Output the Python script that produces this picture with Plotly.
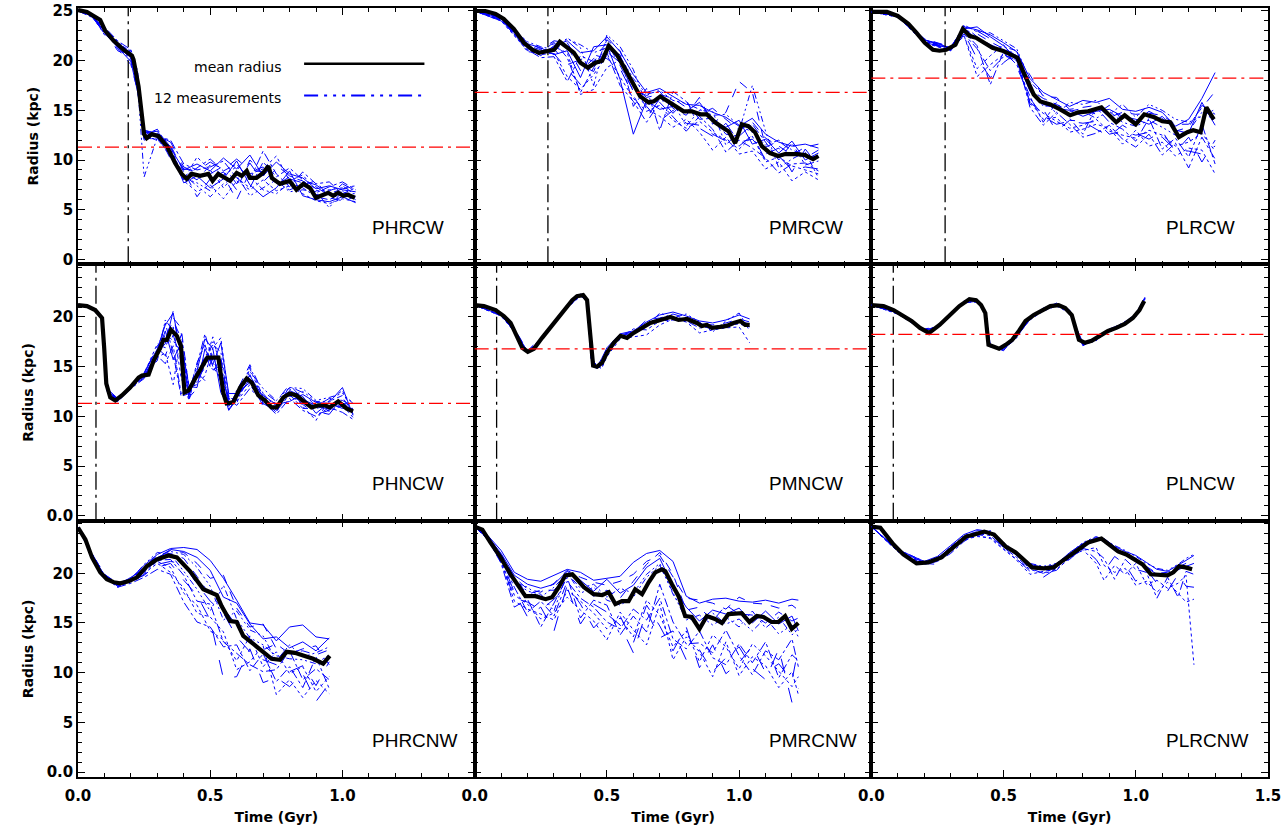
import plotly.graph_objects as go
from plotly.subplots import make_subplots

# ---------------- data ----------------
panel_names = ["PHRCW", "PMRCW", "PLRCW", "PHNCW", "PMNCW", "PLNCW", "PHRCNW", "PMRCNW", "PLRCNW"]
event_time = [0.19, 0.277, 0.279, 0.068, 0.083, 0.083, None, None, None]
threshold_radius = [11.3, 16.8, 18.25, 11.3, 16.8, 18.25, None, None, None]

# mean radius curves
phrcw_t = [0.0, 0.034, 0.084, 0.103, 0.135, 0.172, 0.204, 0.21, 0.229, 0.242, 0.25, 0.26, 0.279, 0.304, 0.336, 0.367, 0.392, 0.411, 0.43, 0.462, 0.493, 0.509, 0.53, 0.575, 0.6, 0.619, 0.638, 0.65, 0.675, 0.7, 0.72, 0.733, 0.764, 0.8, 0.826, 0.852, 0.877, 0.9, 0.92, 0.946, 0.965, 0.984, 1.003, 1.02, 1.047]
phrcw_r = [25.1, 24.9, 24.1, 23.0, 22.0, 21.1, 20.5, 20.1, 17.4, 14.8, 12.6, 12.2, 12.6, 12.4, 11.4, 9.7, 8.6, 8.1, 8.6, 8.4, 8.6, 7.9, 8.6, 7.9, 8.7, 8.4, 8.9, 8.2, 8.2, 8.7, 9.4, 8.2, 7.6, 7.9, 7.0, 7.6, 7.2, 6.2, 6.4, 6.7, 6.4, 6.7, 6.4, 6.5, 6.2]

pmrcw_t = [0.0, 0.04, 0.079, 0.11, 0.148, 0.186, 0.218, 0.243, 0.28, 0.30, 0.322, 0.35, 0.375, 0.40, 0.428, 0.457, 0.482, 0.507, 0.538, 0.57, 0.595, 0.626, 0.658, 0.677, 0.702, 0.733, 0.765, 0.79, 0.821, 0.853, 0.878, 0.909, 0.947, 0.96, 0.985, 1.01, 1.035, 1.06, 1.086, 1.117, 1.148, 1.174, 1.218, 1.249, 1.28, 1.30]
pmrcw_r = [25.0, 25.0, 24.7, 24.2, 23.2, 21.8, 21.1, 20.8, 21.0, 21.1, 21.9, 21.3, 20.8, 19.8, 19.3, 19.8, 20.0, 21.5, 20.6, 19.1, 17.8, 16.4, 15.8, 15.9, 16.4, 15.9, 15.3, 14.9, 14.9, 14.6, 14.6, 13.8, 13.1, 12.9, 11.7, 13.6, 13.4, 12.8, 11.4, 10.7, 10.4, 10.6, 10.6, 10.5, 10.1, 10.4]

plrcw_t = [0.0, 0.059, 0.1, 0.14, 0.171, 0.202, 0.233, 0.258, 0.283, 0.318, 0.346, 0.371, 0.396, 0.427, 0.458, 0.496, 0.527, 0.552, 0.571, 0.593, 0.614, 0.639, 0.677, 0.714, 0.752, 0.783, 0.82, 0.87, 0.895, 0.926, 0.958, 1.0, 1.032, 1.07, 1.1, 1.13, 1.163, 1.195, 1.217, 1.245, 1.267, 1.295]
plrcw_r = [24.9, 24.9, 24.5, 23.7, 22.8, 21.8, 21.1, 21.0, 21.1, 21.6, 23.2, 22.5, 22.3, 21.8, 21.3, 21.0, 20.6, 20.3, 19.1, 17.8, 16.6, 15.9, 15.6, 15.1, 14.5, 14.8, 14.9, 15.3, 14.6, 13.8, 14.5, 13.6, 14.6, 14.3, 13.9, 13.8, 12.3, 12.8, 13.0, 12.8, 15.3, 14.1]

phncw_t = [0.0, 0.034, 0.065, 0.082, 0.091, 0.099, 0.107, 0.122, 0.141, 0.166, 0.197, 0.229, 0.242, 0.267, 0.286, 0.311, 0.323, 0.336, 0.352, 0.374, 0.389, 0.403, 0.418, 0.443, 0.468, 0.489, 0.512, 0.531, 0.55, 0.562, 0.587, 0.613, 0.638, 0.657, 0.682, 0.707, 0.732, 0.751, 0.776, 0.801, 0.826, 0.858, 0.883, 0.908, 0.933, 0.952, 0.984, 1.015, 1.04]
phncw_r = [21.2, 21.1, 20.7, 20.2, 19.9, 16.9, 13.3, 11.9, 11.6, 12.1, 12.9, 13.9, 14.1, 14.2, 15.6, 16.9, 17.7, 17.7, 18.7, 18.1, 17.1, 12.4, 12.6, 13.8, 14.9, 15.9, 15.9, 15.9, 12.3, 11.3, 11.4, 12.9, 13.8, 13.4, 12.1, 11.6, 10.9, 10.9, 11.9, 12.3, 12.1, 11.4, 10.9, 11.1, 11.1, 10.9, 11.5, 10.8, 10.5]

pmncw_t = [0.0, 0.035, 0.079, 0.11, 0.136, 0.161, 0.18, 0.201, 0.224, 0.255, 0.30, 0.337, 0.369, 0.387, 0.41, 0.425, 0.438, 0.448, 0.463, 0.482, 0.50, 0.526, 0.551, 0.576, 0.601, 0.633, 0.664, 0.702, 0.74, 0.771, 0.803, 0.84, 0.859, 0.878, 0.897, 0.928, 0.953, 0.979, 1.004, 1.023, 1.04]
pmncw_r = [21.2, 21.1, 20.7, 20.1, 19.4, 18.1, 16.9, 16.5, 16.8, 17.9, 19.4, 20.6, 21.7, 22.1, 22.2, 21.7, 17.2, 15.1, 15.0, 15.4, 16.4, 17.4, 18.1, 17.9, 18.4, 18.9, 19.4, 19.7, 20.0, 19.7, 19.8, 19.4, 19.1, 19.2, 18.9, 19.0, 19.1, 19.4, 19.6, 19.2, 19.2]

plncw_t = [0.0, 0.046, 0.084, 0.121, 0.152, 0.184, 0.218, 0.258, 0.296, 0.333, 0.371, 0.396, 0.415, 0.431, 0.443, 0.464, 0.483, 0.508, 0.533, 0.558, 0.583, 0.614, 0.645, 0.677, 0.708, 0.733, 0.758, 0.773, 0.785, 0.808, 0.833, 0.864, 0.895, 0.926, 0.958, 0.989, 1.014, 1.032]
plncw_r = [21.2, 21.1, 20.7, 20.1, 19.6, 18.9, 18.4, 19.2, 20.1, 21.1, 21.8, 21.7, 21.2, 20.4, 17.2, 17.0, 16.8, 17.2, 17.7, 18.6, 19.6, 20.2, 20.7, 21.1, 21.2, 20.9, 20.2, 18.9, 17.7, 17.4, 17.6, 18.1, 18.6, 18.9, 19.3, 19.9, 20.7, 21.6]

phrcnw_t = [0.0, 0.028, 0.053, 0.084, 0.109, 0.135, 0.16, 0.191, 0.223, 0.26, 0.298, 0.342, 0.374, 0.424, 0.474, 0.499, 0.525, 0.543, 0.575, 0.60, 0.625, 0.663, 0.701, 0.732, 0.764, 0.789, 0.82, 0.858, 0.889, 0.927, 0.952]
phrcnw_r = [24.6, 23.4, 21.6, 20.1, 19.4, 19.1, 19.0, 19.2, 19.6, 20.7, 21.4, 21.8, 21.6, 20.2, 18.4, 18.1, 17.8, 16.7, 15.2, 15.1, 13.7, 12.9, 12.0, 11.4, 11.3, 12.1, 12.0, 11.7, 11.4, 10.9, 11.7]

pmrcnw_t = [0.0, 0.029, 0.06, 0.098, 0.136, 0.167, 0.192, 0.23, 0.268, 0.293, 0.318, 0.343, 0.369, 0.387, 0.413, 0.45, 0.482, 0.507, 0.532, 0.557, 0.582, 0.607, 0.633, 0.658, 0.683, 0.708, 0.721, 0.746, 0.771, 0.796, 0.821, 0.85, 0.878, 0.909, 0.935, 0.96, 1.01, 1.039, 1.067, 1.092, 1.123, 1.148, 1.174, 1.199, 1.224]
pmrcnw_r = [24.7, 24.4, 23.1, 21.6, 19.9, 18.6, 17.7, 17.7, 17.4, 17.6, 18.6, 19.8, 19.9, 19.4, 18.6, 17.9, 17.8, 18.1, 16.9, 17.2, 17.2, 18.4, 17.9, 19.1, 20.1, 20.4, 20.2, 18.9, 17.7, 15.7, 15.6, 14.4, 15.7, 15.4, 15.0, 15.9, 16.0, 15.1, 15.7, 15.6, 15.1, 15.1, 15.7, 14.4, 15.0]

plrcnw_t = [0.0, 0.034, 0.084, 0.121, 0.171, 0.215, 0.265, 0.308, 0.358, 0.39, 0.427, 0.464, 0.508, 0.546, 0.577, 0.608, 0.652, 0.689, 0.72, 0.77, 0.82, 0.87, 0.901, 0.933, 0.964, 0.995, 1.026, 1.057, 1.089, 1.12, 1.142, 1.164, 1.188, 1.213]
plrcnw_r = [24.7, 24.6, 22.9, 21.9, 21.0, 21.1, 21.6, 22.6, 23.7, 23.9, 24.2, 23.9, 22.7, 22.1, 21.4, 20.6, 20.5, 20.6, 21.2, 22.2, 23.1, 23.5, 22.9, 22.2, 21.9, 21.4, 20.9, 19.9, 19.9, 19.8, 20.1, 20.7, 20.6, 20.4]

# individual measurements (blue)
phrcw_tb = [0, 0.05, 0.1, 0.15, 0.2, 0.225, 0.25, 0.3, 0.35, 0.4, 0.45, 0.5, 0.55, 0.6, 0.65, 0.7, 0.75, 0.8, 0.85, 0.9, 0.95, 1.0, 1.05]
phrcw_meas = [
    [25.1, 24.5, 23.0, 21.4, 20.3, 17.5, 12.8, 12.6, 11.2, 9.0, 9.6, 8.9, 10.2, 9.1, 10.5, 8.4, 9.8, 8.6, 8.2, 7.1, 7.4, 7.0, 6.8],
    [25.0, 24.7, 22.6, 21.8, 20.9, 18.8, 12.2, 12.1, 10.5, 7.9, 6.8, 7.5, 6.1, 7.9, 7.0, 8.0, 6.9, 7.4, 6.6, 5.9, 5.6, 6.1, 5.8],
    [25.1, 24.6, 23.1, 21.2, 19.6, 17.0, 12.9, 12.8, 11.5, 8.8, 8.0, 9.5, 8.4, 6.0, 8.8, 9.3, 7.5, 8.3, 7.9, 6.5, 6.9, 7.4, 6.5],
    [25.0, 24.4, 23.4, 22.0, 21.1, 19.0, 12.5, 13.1, 11.0, 8.3, 9.2, 10.1, 8.9, 9.6, 8.0, 10.9, 8.6, 7.3, 8.8, 7.6, 7.8, 6.6, 7.2],
    [25.1, 24.6, 22.9, 21.5, 20.0, 17.9, 8.3, 12.3, 10.3, 8.5, 7.4, 6.3, 7.6, 8.4, 6.4, 7.2, 8.0, 6.8, 7.0, 6.8, 5.2, 6.9, 6.0],
    [25.0, 24.8, 23.2, 21.7, 20.6, 18.3, 12.0, 12.5, 11.8, 9.3, 8.7, 8.6, 9.4, 7.6, 9.7, 7.8, 9.1, 8.1, 7.7, 7.3, 6.4, 7.6, 6.9],
    [25.1, 24.5, 22.8, 21.3, 19.9, 16.9, 12.7, 12.9, 10.9, 7.7, 8.4, 7.2, 8.1, 9.9, 7.5, 6.3, 7.2, 8.9, 6.4, 6.0, 5.8, 6.3, 5.7],
    [25.0, 24.6, 23.3, 21.9, 20.8, 18.5, 12.4, 12.0, 11.4, 8.0, 10.3, 9.0, 7.2, 8.7, 8.6, 9.1, 10.4, 7.9, 8.5, 6.9, 7.0, 7.2, 7.4],
    [25.1, 24.7, 23.0, 21.0, 20.4, 17.3, 13.0, 12.7, 10.1, 8.9, 6.3, 8.1, 8.8, 7.0, 10.0, 8.6, 7.7, 7.0, 7.5, 7.9, 6.2, 5.9, 6.3],
    [25.0, 24.5, 23.1, 21.6, 21.0, 18.1, 12.6, 12.4, 12.0, 9.6, 9.0, 9.3, 9.9, 8.2, 7.2, 9.8, 8.3, 9.2, 8.0, 6.7, 7.3, 7.8, 7.0],
    [25.1, 24.6, 22.7, 21.4, 20.2, 17.7, 12.1, 12.2, 10.7, 8.2, 7.7, 6.9, 8.5, 9.3, 8.3, 7.0, 6.6, 7.7, 7.2, 6.3, 6.0, 6.7, 6.6],
    [25.0, 24.7, 23.2, 21.8, 20.7, 18.6, 12.3, 13.0, 11.3, 9.1, 8.9, 9.8, 9.0, 10.1, 9.0, 8.8, 9.5, 8.4, 7.9, 7.5, 6.6, 7.1, 7.3],
]

pmrcw_tb = [0, 0.1, 0.2, 0.25, 0.3, 0.35, 0.4, 0.45, 0.5, 0.55, 0.6, 0.65, 0.7, 0.75, 0.8, 0.85, 0.9, 0.95, 1.0, 1.05, 1.1, 1.15, 1.2, 1.25, 1.3]
pmrcw_meas = [
    [25.0, 24.3, 21.3, 20.5, 21.5, 22.0, 20.8, 21.0, 22.4, 20.9, 18.6, 16.8, 17.2, 16.4, 15.6, 15.5, 14.8, 14.3, 13.4, 14.2, 12.6, 11.8, 11.4, 11.6, 11.2],
    [25.0, 24.0, 21.0, 20.6, 20.8, 18.4, 17.1, 18.6, 20.5, 18.4, 16.2, 14.9, 15.5, 14.0, 13.2, 13.9, 12.8, 12.0, 11.1, 12.4, 9.8, 10.3, 9.4, 9.0, 8.6],
    [25.0, 24.4, 21.8, 21.2, 21.7, 21.5, 19.0, 20.2, 21.8, 19.5, 17.0, 16.5, 16.9, 15.2, 14.5, 16.3, 13.6, 14.8, 17.9, 16.8, 11.3, 11.9, 10.9, 10.2, 11.0],
    [25.0, 24.1, 21.6, 20.7, 21.9, 20.3, 16.8, 19.3, 21.1, 20.6, 15.4, 17.2, 13.0, 16.9, 15.9, 14.1, 14.2, 12.6, 12.4, 13.6, 11.8, 10.0, 11.7, 9.5, 9.9],
    [25.0, 24.2, 21.2, 21.0, 20.9, 22.3, 21.3, 17.5, 22.6, 21.4, 19.1, 15.5, 16.0, 15.8, 13.4, 15.0, 14.9, 11.5, 12.9, 17.5, 12.9, 9.2, 10.1, 10.8, 8.2],
    [25.0, 24.3, 21.4, 20.4, 21.2, 19.6, 20.1, 20.6, 20.2, 19.2, 16.5, 14.2, 16.2, 14.7, 16.1, 13.2, 12.4, 13.7, 11.8, 12.1, 10.6, 11.2, 8.8, 11.1, 9.4],
    [25.0, 24.0, 21.7, 21.3, 20.6, 21.0, 18.3, 21.4, 21.6, 18.1, 12.6, 16.0, 15.1, 15.4, 14.9, 15.8, 14.0, 13.3, 14.0, 11.6, 12.1, 10.7, 11.9, 10.0, 10.7],
    [25.0, 24.4, 20.9, 20.8, 21.4, 20.8, 16.6, 17.1, 19.3, 20.1, 17.9, 15.1, 14.4, 13.3, 14.1, 12.8, 11.0, 12.3, 10.6, 10.9, 9.1, 9.8, 7.9, 8.8, 8.0],
    [25.0, 24.2, 21.5, 21.1, 22.0, 21.8, 19.6, 18.9, 22.1, 21.0, 17.4, 16.3, 16.6, 16.2, 15.3, 14.7, 15.2, 14.1, 13.0, 13.8, 12.2, 11.4, 10.5, 11.3, 11.6],
    [25.0, 24.1, 21.1, 20.3, 20.4, 17.9, 20.5, 19.9, 20.8, 17.5, 15.9, 13.8, 15.8, 14.3, 12.9, 14.4, 13.1, 10.8, 12.0, 11.2, 10.2, 8.7, 9.6, 9.7, 8.9],
    [25.0, 24.3, 21.9, 21.4, 21.1, 22.2, 21.6, 20.8, 21.3, 20.4, 18.2, 16.6, 17.0, 16.0, 15.7, 15.1, 14.5, 14.6, 13.5, 12.8, 11.5, 12.0, 11.0, 10.5, 10.3],
    [25.0, 24.2, 21.3, 20.9, 20.7, 19.1, 17.6, 20.0, 20.9, 19.8, 16.9, 15.4, 13.9, 15.0, 13.7, 13.5, 12.6, 11.9, 11.4, 12.5, 10.0, 10.4, 9.0, 9.3, 9.1],
]

plrcw_tb = [0, 0.1, 0.2, 0.3, 0.35, 0.4, 0.45, 0.5, 0.55, 0.6, 0.65, 0.7, 0.75, 0.8, 0.85, 0.9, 0.95, 1.0, 1.05, 1.1, 1.15, 1.2, 1.25, 1.3]
plrcw_meas = [
    [24.9, 24.5, 22.1, 21.3, 23.4, 23.1, 22.6, 21.8, 20.9, 18.2, 16.8, 16.1, 15.4, 16.0, 15.8, 16.2, 15.1, 14.9, 15.3, 14.8, 13.4, 14.1, 16.2, 18.8],
    [24.9, 24.4, 21.8, 21.0, 22.6, 18.4, 19.6, 20.6, 20.0, 15.8, 14.7, 13.9, 13.2, 13.5, 14.1, 12.9, 12.5, 12.2, 13.0, 12.5, 11.4, 11.8, 12.7, 10.9],
    [24.9, 24.6, 22.2, 21.4, 23.1, 22.7, 21.9, 21.2, 20.5, 17.1, 16.2, 15.6, 14.9, 15.2, 14.6, 15.5, 14.0, 13.9, 14.9, 14.2, 12.9, 13.3, 15.5, 14.6],
    [24.9, 24.5, 21.9, 21.1, 22.9, 21.5, 17.6, 20.9, 19.6, 16.4, 13.8, 15.8, 14.2, 12.6, 15.3, 13.8, 13.1, 11.9, 14.2, 11.1, 12.2, 10.3, 13.6, 9.6],
    [24.9, 24.4, 22.0, 21.2, 23.6, 22.9, 22.8, 22.0, 21.2, 17.9, 16.5, 14.6, 15.8, 15.6, 16.0, 14.6, 15.6, 14.3, 15.6, 15.0, 14.1, 13.8, 14.4, 15.1],
    [24.9, 24.5, 22.1, 21.2, 22.8, 20.2, 18.3, 19.8, 20.8, 15.6, 15.1, 12.9, 14.0, 13.9, 13.1, 12.4, 13.5, 12.7, 12.1, 12.9, 10.8, 12.3, 9.8, 12.0],
    [24.9, 24.6, 21.8, 21.3, 23.2, 23.4, 22.4, 21.5, 20.2, 16.9, 15.6, 15.2, 15.0, 14.4, 14.9, 15.1, 14.4, 14.1, 13.6, 14.4, 13.0, 12.7, 15.8, 13.5],
    [24.9, 24.4, 22.0, 21.1, 22.5, 19.2, 20.5, 21.6, 19.9, 15.9, 14.1, 14.3, 12.8, 13.1, 13.6, 13.2, 11.6, 13.0, 11.4, 11.8, 10.4, 11.2, 11.0, 8.6],
    [24.9, 24.5, 22.2, 21.3, 23.5, 22.4, 21.6, 21.1, 20.7, 18.6, 16.4, 16.3, 15.1, 15.3, 15.5, 14.3, 14.8, 14.6, 14.7, 14.5, 13.6, 13.6, 15.2, 16.9],
    [24.9, 24.4, 21.9, 21.0, 22.7, 21.2, 19.0, 20.4, 20.4, 15.3, 13.5, 14.8, 13.6, 12.3, 12.7, 13.5, 12.1, 11.3, 12.6, 10.5, 11.7, 9.2, 12.3, 10.1],
    [24.9, 24.5, 22.0, 21.2, 23.3, 22.1, 21.3, 21.4, 21.0, 17.4, 15.4, 15.5, 14.5, 14.9, 14.2, 14.9, 13.8, 13.4, 14.0, 13.3, 12.5, 12.9, 14.8, 14.0],
    [24.9, 24.6, 22.1, 21.4, 22.4, 23.0, 22.2, 20.8, 19.4, 16.2, 14.4, 13.6, 13.9, 13.7, 13.9, 12.6, 12.9, 12.5, 12.8, 12.3, 11.0, 10.9, 10.6, 11.4],
]

phncw_tb = [0, 0.05, 0.09, 0.1, 0.11, 0.15, 0.2, 0.25, 0.3, 0.33, 0.36, 0.39, 0.42, 0.45, 0.48, 0.51, 0.54, 0.57, 0.6, 0.65, 0.7, 0.75, 0.8, 0.85, 0.9, 0.95, 1.0, 1.04]
phncw_meas = [
    [21.2, 21.0, 19.9, 17.2, 12.6, 11.7, 13.0, 14.3, 16.8, 19.2, 20.4, 16.1, 12.1, 14.6, 17.8, 16.8, 12.4, 11.0, 12.2, 14.1, 11.9, 10.6, 12.6, 12.0, 10.3, 11.4, 12.9, 10.1],
    [21.2, 20.9, 20.0, 17.8, 12.8, 11.5, 12.8, 14.0, 15.9, 16.4, 13.2, 18.4, 12.9, 13.2, 14.1, 16.9, 17.9, 12.0, 11.5, 13.2, 11.2, 11.4, 12.1, 11.3, 11.2, 10.5, 11.1, 9.9],
    [21.2, 21.0, 19.8, 17.0, 12.5, 11.8, 13.1, 14.2, 17.1, 18.0, 19.6, 17.9, 11.8, 14.0, 16.2, 14.4, 16.0, 10.9, 12.5, 15.2, 12.3, 10.8, 13.0, 12.4, 11.0, 11.8, 11.6, 11.0],
    [21.2, 20.9, 19.9, 17.5, 12.7, 11.6, 12.9, 13.9, 16.1, 15.3, 17.1, 12.3, 12.6, 15.1, 18.3, 15.6, 14.2, 11.8, 11.1, 12.8, 11.5, 10.2, 11.8, 10.6, 10.0, 10.9, 10.4, 9.7],
    [21.2, 21.0, 19.9, 17.4, 12.6, 11.7, 13.0, 14.4, 15.6, 19.7, 18.6, 16.8, 12.4, 13.5, 15.1, 17.5, 15.3, 11.2, 12.0, 14.5, 12.8, 11.6, 12.9, 12.8, 11.6, 11.9, 12.3, 11.3],
    [21.2, 20.9, 19.8, 17.1, 12.5, 11.5, 12.8, 14.1, 16.5, 17.3, 20.6, 15.2, 12.2, 14.4, 13.6, 16.1, 13.4, 10.6, 11.7, 13.8, 11.0, 10.9, 12.4, 11.5, 10.5, 10.2, 11.9, 10.4],
    [21.2, 21.0, 20.0, 17.6, 12.8, 11.8, 13.1, 14.0, 16.3, 18.6, 15.7, 17.4, 13.0, 12.9, 16.8, 15.2, 17.4, 12.3, 12.3, 13.4, 12.1, 11.2, 11.5, 12.2, 11.4, 11.3, 10.8, 10.8],
    [21.2, 20.9, 19.9, 17.3, 12.6, 11.6, 12.9, 14.3, 17.3, 16.9, 19.0, 13.9, 11.6, 14.8, 15.4, 18.0, 14.7, 11.5, 11.3, 14.8, 11.7, 10.4, 12.8, 11.0, 9.6, 11.6, 12.6, 10.2],
    [21.2, 21.0, 19.9, 17.7, 12.7, 11.7, 13.0, 14.2, 15.8, 17.9, 19.9, 18.9, 12.7, 13.7, 14.9, 16.4, 15.7, 11.7, 12.6, 13.1, 12.5, 11.5, 13.2, 11.7, 11.1, 10.7, 11.3, 11.2],
    [21.2, 20.9, 19.8, 17.2, 12.5, 11.5, 12.8, 13.8, 16.6, 19.4, 16.3, 12.0, 12.3, 15.4, 17.2, 15.0, 13.8, 10.7, 11.8, 14.2, 11.3, 10.5, 12.2, 10.8, 10.8, 11.1, 11.0, 10.6],
    [21.2, 21.0, 19.9, 17.5, 12.6, 11.6, 13.1, 14.1, 16.0, 18.3, 17.6, 16.5, 12.9, 14.1, 16.0, 17.2, 16.5, 11.9, 11.6, 15.0, 12.0, 11.1, 12.0, 12.5, 11.5, 11.5, 12.1, 11.4],
    [21.2, 20.9, 20.0, 17.8, 12.7, 11.8, 12.9, 14.4, 16.9, 16.1, 18.2, 15.6, 11.9, 12.8, 15.7, 14.7, 15.1, 11.3, 12.1, 13.5, 11.4, 10.7, 12.5, 11.2, 10.2, 10.6, 11.5, 10.3],
]

pmncw_tb = [0, 0.1, 0.16, 0.2, 0.25, 0.3, 0.35, 0.4, 0.425, 0.44, 0.46, 0.48, 0.5, 0.55, 0.6, 0.65, 0.7, 0.75, 0.8, 0.85, 0.9, 0.95, 1.0, 1.04]
pmncw_meas = [
    [21.2, 20.2, 18.3, 16.4, 17.8, 19.4, 21.0, 22.2, 21.6, 16.1, 14.9, 15.8, 16.9, 18.3, 18.6, 19.5, 20.2, 20.5, 20.1, 19.6, 19.4, 19.7, 20.2, 19.8],
    [21.2, 20.1, 18.2, 16.5, 17.7, 19.3, 20.9, 22.1, 21.8, 15.9, 15.1, 14.8, 16.0, 17.8, 18.0, 18.2, 19.2, 19.8, 19.5, 18.4, 18.7, 18.9, 19.0, 17.4],
    [21.2, 20.2, 18.4, 16.6, 17.9, 19.5, 21.1, 22.3, 21.7, 16.2, 15.0, 15.5, 16.6, 18.2, 18.5, 19.7, 19.9, 20.3, 19.9, 19.3, 19.2, 19.4, 19.8, 19.5],
    [21.2, 20.1, 18.3, 16.5, 17.8, 19.4, 21.0, 22.2, 21.7, 15.8, 15.2, 14.9, 16.3, 17.9, 18.8, 18.7, 19.6, 19.7, 19.6, 18.9, 19.0, 19.2, 19.3, 19.0],
    [21.2, 20.2, 18.2, 16.4, 17.7, 19.3, 20.9, 22.2, 21.6, 16.0, 14.8, 15.6, 16.8, 18.0, 18.3, 19.0, 20.4, 19.9, 20.3, 19.5, 18.5, 19.6, 20.4, 18.6],
    [21.2, 20.2, 18.3, 16.5, 17.8, 19.4, 21.0, 22.1, 21.7, 16.1, 15.0, 15.2, 16.5, 18.1, 18.4, 19.3, 19.8, 20.1, 19.7, 19.1, 18.8, 19.0, 19.6, 19.3],
]

plncw_tb = [0, 0.1, 0.2, 0.25, 0.3, 0.35, 0.4, 0.43, 0.45, 0.5, 0.55, 0.6, 0.65, 0.7, 0.75, 0.78, 0.8, 0.85, 0.9, 0.95, 1.0, 1.035]
plncw_meas = [
    [21.2, 20.4, 18.7, 19.0, 20.2, 21.6, 21.7, 20.7, 17.0, 16.7, 18.0, 19.8, 20.8, 21.3, 20.6, 18.3, 17.2, 17.7, 18.7, 19.3, 20.3, 22.0],
    [21.2, 20.3, 18.6, 18.9, 20.1, 21.5, 21.5, 20.5, 17.2, 16.8, 18.1, 19.7, 20.6, 21.1, 20.4, 18.6, 17.3, 17.9, 18.5, 19.1, 20.0, 21.9],
    [21.2, 20.4, 18.7, 19.1, 20.3, 21.6, 21.7, 20.6, 17.1, 16.6, 18.4, 20.0, 20.8, 21.4, 20.7, 18.4, 17.1, 17.8, 18.8, 19.3, 20.2, 22.1],
    [21.2, 20.4, 18.8, 19.0, 20.2, 21.4, 21.6, 20.6, 17.0, 16.9, 18.2, 19.8, 20.7, 21.2, 20.5, 18.7, 17.4, 17.8, 18.6, 19.2, 20.1, 21.8],
    [21.2, 20.3, 18.7, 18.9, 20.1, 21.5, 21.6, 20.7, 17.1, 16.7, 17.9, 19.9, 20.9, 21.3, 20.6, 18.5, 17.2, 17.6, 18.7, 19.4, 20.2, 21.9],
    [21.2, 20.4, 18.6, 19.0, 20.2, 21.6, 21.5, 20.5, 17.2, 16.8, 18.1, 19.8, 20.6, 21.2, 20.4, 18.6, 17.3, 17.9, 18.6, 19.2, 20.1, 22.0],
]

phrcnw_tb = [0, 0.05, 0.1, 0.15, 0.2, 0.25, 0.3, 0.35, 0.4, 0.45, 0.5, 0.55, 0.6, 0.65, 0.7, 0.75, 0.8, 0.85, 0.9, 0.95]
phrcnw_meas = [
    [24.6, 22.0, 19.7, 18.8, 19.5, 20.8, 21.9, 22.5, 22.6, 22.4, 21.3, 19.5, 17.3, 15.0, 14.8, 13.2, 14.6, 14.8, 13.6, 13.4],
    [24.6, 21.9, 19.6, 18.7, 19.3, 20.1, 21.2, 20.6, 18.0, 16.8, 14.2, 13.3, 11.2, 13.7, 10.6, 12.1, 9.9, 10.6, 8.1, 9.6],
    [24.6, 22.1, 19.9, 18.9, 19.2, 20.6, 21.7, 22.3, 22.1, 21.0, 19.5, 19.8, 16.5, 14.6, 14.9, 12.4, 12.0, 12.2, 11.8, 12.3],
    [24.6, 22.0, 19.8, 18.6, 19.0, 19.6, 20.4, 19.9, 17.1, 15.1, 14.6, 12.6, 12.8, 10.2, 11.9, 9.1, 10.6, 8.5, 11.6, 8.4],
    [24.6, 21.9, 19.7, 18.9, 19.4, 20.9, 22.1, 21.9, 20.2, 18.4, 16.2, 18.8, 15.4, 13.5, 12.8, 11.7, 11.4, 11.3, 10.9, 11.8],
    [24.6, 22.1, 19.9, 18.7, 19.1, 19.9, 20.6, 21.0, 19.3, 17.8, 15.3, 9.4, 9.6, 12.4, 9.0, 9.5, 8.6, 9.9, 7.1, 8.9],
    [24.6, 22.0, 19.8, 18.8, 19.6, 20.4, 21.5, 22.4, 22.2, 21.6, 20.3, 17.6, 17.0, 14.9, 13.4, 13.6, 12.5, 13.1, 12.2, 13.5],
    [24.6, 22.0, 19.6, 18.6, 19.2, 20.0, 21.0, 20.1, 18.5, 16.0, 15.6, 14.1, 10.3, 11.1, 12.7, 7.8, 9.3, 7.5, 9.2, 7.9],
    [24.6, 21.9, 19.9, 19.0, 19.5, 20.7, 21.8, 22.0, 21.5, 19.7, 17.8, 16.5, 14.7, 13.0, 12.3, 12.9, 11.9, 12.4, 12.7, 10.8],
    [24.6, 22.1, 19.7, 18.8, 19.3, 20.2, 21.3, 21.4, 19.8, 17.2, 16.9, 13.1, 11.9, 10.8, 10.1, 10.3, 12.2, 9.3, 10.4, 9.3],
    [24.6, 22.0, 19.8, 18.9, 19.4, 20.5, 21.6, 22.2, 21.9, 20.6, 18.7, 15.3, 16.2, 14.3, 13.7, 11.2, 12.8, 11.6, 12.0, 12.6],
    [24.6, 22.0, 19.7, 18.7, 19.2, 19.8, 20.9, 21.2, 20.9, 18.9, 17.2, 16.0, 13.6, 12.1, 11.3, 10.8, 10.1, 10.7, 8.7, 11.1],
]

pmrcnw_tb = [0, 0.05, 0.1, 0.15, 0.2, 0.25, 0.3, 0.35, 0.4, 0.45, 0.5, 0.55, 0.6, 0.65, 0.7, 0.75, 0.8, 0.85, 0.9, 0.95, 1.0, 1.05, 1.1, 1.15, 1.2, 1.224]
pmrcnw_meas = [
    [24.7, 23.8, 22.3, 20.1, 19.4, 19.2, 19.8, 20.4, 20.1, 19.3, 19.5, 19.7, 21.1, 22.0, 22.3, 21.2, 17.7, 17.0, 17.4, 17.5, 17.2, 17.1, 17.3, 17.0, 17.4, 17.3],
    [24.7, 23.5, 21.2, 17.2, 16.4, 15.9, 15.3, 18.3, 17.2, 16.0, 14.4, 15.5, 13.6, 17.3, 15.8, 12.6, 14.2, 11.1, 13.8, 12.6, 10.4, 12.9, 11.7, 10.2, 8.6, 9.6],
    [24.7, 23.7, 21.9, 19.6, 18.4, 18.1, 19.0, 20.3, 19.6, 19.1, 18.8, 19.2, 19.9, 21.2, 21.8, 19.6, 17.5, 17.3, 17.0, 16.4, 17.6, 17.0, 16.9, 16.5, 16.8, 16.3],
    [24.7, 23.4, 21.0, 16.6, 17.4, 14.6, 17.0, 19.6, 15.5, 17.3, 16.8, 13.8, 15.7, 14.1, 18.9, 15.1, 12.9, 13.0, 12.0, 14.3, 11.7, 9.8, 12.2, 11.3, 13.4, 10.6],
    [24.7, 23.6, 21.7, 19.3, 18.2, 17.9, 16.2, 20.1, 18.0, 18.6, 17.3, 16.8, 17.6, 19.6, 20.8, 18.1, 15.3, 15.8, 14.8, 15.6, 14.6, 16.2, 14.5, 15.6, 13.8, 14.4],
    [24.7, 23.5, 21.4, 18.1, 15.6, 16.6, 14.2, 18.8, 16.9, 14.5, 15.9, 14.8, 12.0, 16.2, 13.5, 14.2, 11.3, 12.3, 10.1, 11.5, 12.6, 10.4, 9.3, 12.4, 7.0, 8.4],
    [24.7, 23.7, 22.0, 19.8, 18.9, 18.5, 18.9, 20.2, 19.3, 18.2, 19.4, 18.0, 18.8, 20.6, 21.5, 18.7, 16.6, 15.2, 16.3, 15.9, 16.5, 15.0, 16.2, 14.9, 15.7, 14.2],
    [24.7, 23.4, 21.3, 17.8, 16.9, 15.4, 16.0, 17.6, 16.3, 15.2, 13.3, 16.1, 14.3, 12.8, 16.9, 11.3, 13.6, 12.1, 9.6, 13.1, 9.7, 11.6, 10.7, 8.5, 10.1, 7.8],
    [24.7, 23.6, 21.8, 19.5, 17.9, 18.3, 18.3, 19.8, 19.0, 17.7, 18.3, 17.5, 19.2, 20.9, 22.1, 19.9, 16.3, 16.6, 15.2, 16.8, 15.9, 15.8, 15.0, 16.1, 15.2, 15.5],
    [24.7, 23.5, 21.5, 18.6, 16.1, 17.2, 15.7, 19.2, 17.5, 16.6, 15.1, 14.4, 16.4, 15.3, 17.5, 13.4, 12.4, 14.2, 11.5, 10.8, 12.9, 11.0, 13.1, 9.5, 11.8, 11.2],
    [24.7, 23.7, 21.7, 19.1, 18.6, 17.6, 18.6, 20.0, 18.5, 18.9, 17.6, 18.5, 18.0, 19.9, 21.0, 17.9, 15.8, 14.5, 16.0, 14.9, 15.4, 14.2, 15.5, 13.9, 14.8, 13.6],
    [24.7, 23.5, 21.1, 17.5, 17.1, 16.3, 17.4, 18.6, 14.9, 16.9, 16.1, 15.7, 13.0, 16.8, 14.7, 12.2, 14.6, 10.5, 12.8, 9.9, 11.0, 12.7, 10.0, 10.9, 9.2, 12.5],
]

plrcnw_tb = [0, 0.1, 0.2, 0.25, 0.3, 0.35, 0.4, 0.45, 0.5, 0.55, 0.6, 0.65, 0.7, 0.75, 0.8, 0.85, 0.88, 0.92, 0.96, 1.0, 1.04, 1.08, 1.12, 1.16, 1.19, 1.22]
plrcnw_meas = [
    [24.7, 22.4, 21.2, 21.7, 22.8, 23.9, 24.4, 24.2, 23.0, 22.0, 20.9, 20.6, 20.9, 22.1, 23.0, 23.6, 23.5, 22.7, 22.2, 21.8, 21.1, 20.4, 20.2, 20.8, 21.3, 21.8],
    [24.7, 22.2, 21.0, 21.3, 22.3, 23.4, 23.7, 23.6, 22.5, 21.3, 19.9, 20.2, 20.4, 21.5, 22.4, 21.0, 19.3, 20.8, 19.9, 21.0, 18.9, 19.3, 18.5, 19.0, 19.8, 10.8],
    [24.7, 22.3, 21.1, 21.6, 22.6, 23.7, 24.3, 24.1, 22.9, 21.9, 20.8, 20.5, 20.8, 21.9, 22.9, 23.5, 23.2, 22.4, 21.9, 21.5, 20.7, 20.0, 20.1, 20.6, 21.0, 21.5],
    [24.7, 22.2, 20.9, 21.2, 22.0, 23.2, 24.0, 23.8, 22.6, 21.6, 20.5, 20.0, 20.3, 21.6, 22.5, 22.2, 21.5, 19.4, 21.4, 20.4, 20.1, 17.5, 19.6, 17.6, 20.2, 19.9],
    [24.7, 22.4, 21.2, 21.4, 22.7, 23.8, 24.2, 24.3, 23.1, 22.1, 21.0, 20.7, 21.0, 22.0, 23.1, 23.7, 23.4, 22.8, 22.3, 21.7, 21.0, 20.5, 20.3, 20.9, 21.5, 21.9],
    [24.7, 22.3, 21.0, 20.9, 22.4, 23.5, 23.9, 23.7, 22.7, 21.5, 20.2, 19.6, 20.5, 21.4, 22.6, 21.4, 20.2, 21.7, 20.9, 19.2, 20.4, 19.0, 18.2, 19.9, 18.7, 18.6],
    [24.7, 22.3, 21.1, 21.5, 22.6, 23.6, 24.1, 24.0, 22.8, 21.8, 20.7, 20.4, 20.7, 21.8, 22.8, 23.4, 23.3, 22.5, 22.0, 21.4, 20.6, 19.9, 19.9, 20.4, 20.7, 21.0],
    [24.7, 22.2, 21.0, 21.3, 22.2, 23.3, 23.8, 23.5, 22.4, 21.4, 20.4, 20.0, 20.6, 21.7, 22.3, 22.6, 20.8, 20.1, 20.5, 18.8, 19.2, 18.1, 19.1, 18.0, 17.1, 17.4],
]

mean_t = [phrcw_t, pmrcw_t, plrcw_t, phncw_t, pmncw_t, plncw_t, phrcnw_t, pmrcnw_t, plrcnw_t]
mean_r = [phrcw_r, pmrcw_r, plrcw_r, phncw_r, pmncw_r, plncw_r, phrcnw_r, pmrcnw_r, plrcnw_r]
meas_t = [phrcw_tb, pmrcw_tb, plrcw_tb, phncw_tb, pmncw_tb, plncw_tb, phrcnw_tb, pmrcnw_tb, plrcnw_tb]
meas_r = [phrcw_meas, pmrcw_meas, plrcw_meas, phncw_meas, pmncw_meas, plncw_meas, phrcnw_meas, pmrcnw_meas, plrcnw_meas]

# ---------------- styling ----------------
BLUE = "#0000ff"
blue_dashes = ["solid", "dot", "dash", "dashdot", "6px,3px,2px,3px,2px,3px,2px,3px", "longdash"]
tick_font = dict(family="DejaVu Sans", size=15, color="black", weight="bold")
title_font = dict(family="DejaVu Sans", size=14, color="black", weight="bold")

fig = make_subplots(rows=3, cols=3, horizontal_spacing=0, vertical_spacing=0)

for i, name in enumerate(panel_names):
    row, col = i // 3 + 1, i % 3 + 1
    axn = "" if i == 0 else str(i + 1)
    tb = meas_t[i]
    for k, vals in enumerate(meas_r[i]):
        n = min(len(tb), len(vals))
        fig.add_trace(go.Scatter(x=tb[:n], y=vals[:n], mode="lines",
                                 line=dict(color=BLUE, width=1, dash=blue_dashes[k % len(blue_dashes)]),
                                 hoverinfo="skip", showlegend=False), row=row, col=col)
    n = min(len(mean_t[i]), len(mean_r[i]))
    fig.add_trace(go.Scatter(x=mean_t[i][:n], y=mean_r[i][:n], mode="lines",
                             line=dict(color="black", width=4.2),
                             showlegend=False), row=row, col=col)
    if event_time[i] is not None:
        fig.add_shape(type="line", xref="x" + axn, yref="y" + axn + " domain",
                      x0=event_time[i], x1=event_time[i], y0=0, y1=1, layer="above",
                      line=dict(color="black", width=1.3, dash="18px,5px,3px,5px"))
    if threshold_radius[i] is not None:
        fig.add_shape(type="line", xref="x" + axn + " domain", yref="y" + axn,
                      x0=0, x1=1, y0=threshold_radius[i], y1=threshold_radius[i], layer="above",
                      line=dict(color="#ff0000", width=1.2, dash="14px,5px,3px,5px"))
    fig.add_annotation(x=1.105, y=3.2, xref="x" + axn, yref="y" + axn, text=name,
                       showarrow=False, xanchor="left", yanchor="middle",
                       font=dict(family="Liberation Sans", size=19, color="black"))

    # x axis
    xt = [0, 0.5, 1.0, 1.5] if col == 3 else [0, 0.5, 1.0]
    fig.update_xaxes(range=[0, 1.5], tickvals=xt, ticktext=["%.1f" % v for v in xt],
                     showticklabels=(row == 3), tickfont=tick_font, automargin=False,
                     ticklabelstandoff=4,
                     showline=True, linecolor="black", linewidth=1.5, mirror="ticks",
                     ticks="inside", ticklen=7, tickwidth=1.3, tickcolor="black",
                     minor=dict(ticks="inside", ticklen=4, dtick=0.1, tick0=0, tickcolor="black", tickwidth=1),
                     showgrid=False, zeroline=False, row=row, col=col)
    if row == 3:
        fig.update_xaxes(title=dict(text="Time (Gyr)", font=title_font, standoff=8), row=row, col=col)

    # y axis
    if row == 1:
        yt = [0, 5, 10, 15, 20, 25]
        ytxt = ["0", "5", "10", "15", "20", "25"]
    else:
        yt = [0, 5, 10, 15, 20]
        ytxt = ["0.0", "5", "10", "15", "20"]
    fig.update_yaxes(range=[-0.5, 25.3], tickvals=yt, ticktext=ytxt,
                     showticklabels=(col == 1), tickfont=tick_font, automargin=False,
                     showline=True, linecolor="black", linewidth=1.5, mirror="ticks",
                     ticks="inside", ticklen=7, tickwidth=1.3, tickcolor="black",
                     minor=dict(ticks="inside", ticklen=4, dtick=1, tick0=0, tickcolor="black", tickwidth=1),
                     showgrid=False, zeroline=False, row=row, col=col)
    if col == 1:
        fig.update_yaxes(title=dict(text="Radius (kpc)", font=title_font, standoff=10), row=row, col=col)

# legend drawn inside first panel
fig.add_shape(type="line", xref="x", yref="y", x0=0.855, x1=1.31, y0=19.7, y1=19.7,
              line=dict(color="black", width=2.5))
fig.add_shape(type="line", xref="x", yref="y", x0=0.855, x1=1.31, y0=16.5, y1=16.5,
              line=dict(color=BLUE, width=2, dash="14px,6px,3px,6px,3px,6px,3px,6px"))
fig.add_annotation(x=0.775, y=19.4, xref="x", yref="y", text="mean radius", showarrow=False,
                   xanchor="right", yanchor="middle", font=dict(family="DejaVu Sans", size=14, color="black"))
fig.add_annotation(x=0.775, y=16.2, xref="x", yref="y", text="12 measurements", showarrow=False,
                   xanchor="right", yanchor="middle", font=dict(family="DejaVu Sans", size=14, color="black"))

fig.update_layout(width=1287, height=827, margin=dict(l=78, r=19, t=8, b=50),
                  plot_bgcolor="white", paper_bgcolor="white", showlegend=False)

fig.write_html("out.html", config={"displayModeBar": False},
               post_script="document.body.style.margin='0';")
